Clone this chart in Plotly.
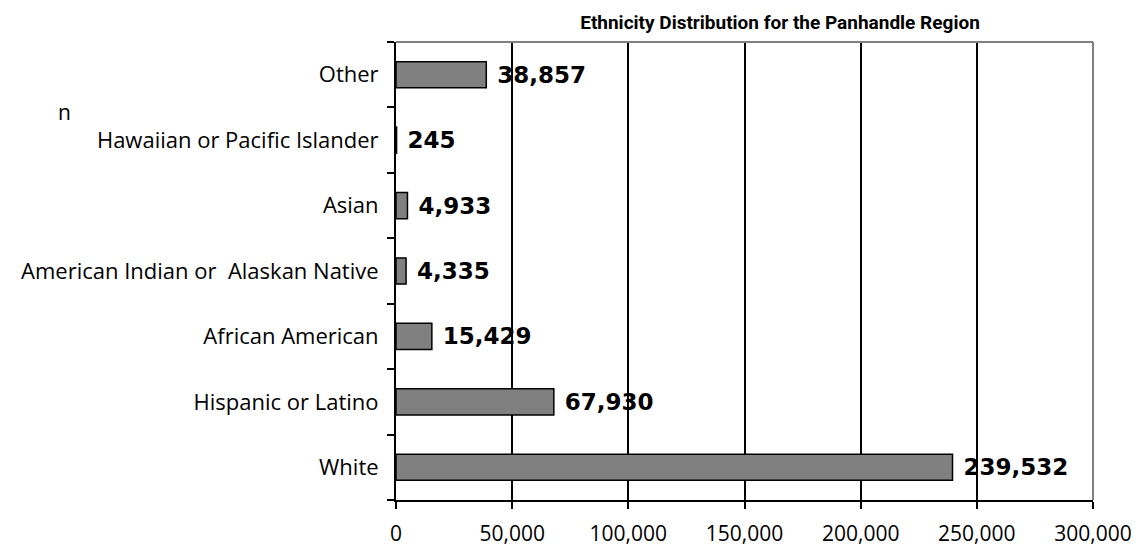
import plotly.graph_objects as go

categories = ["White", "Hispanic or Latino", "African American",
              "American Indian or  Alaskan Native", "Asian",
              "Hawaiian or Pacific Islander", "Other"]
counts = [239532, 67930, 15429, 4335, 4933, 245, 38857]
x_ticks = [0, 50000, 100000, 150000, 200000, 250000, 300000]
x_tick_labels = ["0", "50,000", "100,000", "150,000", "200,000", "250,000", "300,000"]

# page body has an 8px margin, so figure is 8px smaller and offsets shifted
W, H = 1140, 543

fig = go.Figure(go.Bar(
    x=counts, y=categories, orientation="h",
    width=0.4,
    marker=dict(color="#808080", line=dict(color="black", width=1.5)),
    text=["\u00a0" + f"{v:,}" for v in counts],
    textposition="outside",
    constraintext="none",
    textfont=dict(family="DejaVu Sans", size=23, color="black", weight="bold"),
    cliponaxis=False,
))

fig.update_layout(
    width=W, height=H,
    paper_bgcolor="white", plot_bgcolor="white",
    margin=dict(l=388, r=55, t=34, b=51),
    showlegend=False,
    title=dict(text="<b>Ethnicity Distribution for the Panhandle Region</b>",
               x=772 / W, xanchor="center", y=1 - 14 / H, yanchor="middle",
               font=dict(family="Roboto", size=19, color="black")),
    font=dict(family="Open Sans", color="black"),
)

fig.update_xaxes(
    range=[0, 300000], tickvals=x_ticks, ticktext=x_tick_labels,
    showgrid=True, gridcolor="black", gridwidth=2,
    showline=True, linecolor="black", linewidth=2,
    ticks="outside", ticklen=7, tickwidth=2, tickcolor="black",
    tickfont=dict(family="Open Sans", size=21, color="black"),
    zeroline=False, ticklabelstandoff=7, automargin=False,
)
fig.update_yaxes(
    categoryorder="array", categoryarray=categories,
    showgrid=False, showline=True, linecolor="black", linewidth=2,
    ticks="outside", ticklen=7, tickwidth=2, tickcolor="black",
    tickson="boundaries",
    tickfont=dict(family="Open Sans", size=22, color="black"),
    zeroline=False, ticklabelstandoff=11, automargin=False,
)

# gray border on top and right of the plot area
fig.add_shape(type="line", xref="paper", yref="paper", x0=0, x1=1, y0=1, y1=1,
              line=dict(color="#808080", width=2))
fig.add_shape(type="line", xref="paper", yref="paper", x0=1, x1=1, y0=0, y1=1,
              line=dict(color="#808080", width=2))

# stray text fragment at left
fig.add_annotation(text="n", xref="paper", yref="paper",
                   x=(48 - 388) / 697, y=(492 - 104) / 458, xanchor="left", yanchor="middle",
                   showarrow=False, font=dict(family="Open Sans", size=21, color="black"))

fig.write_html("out.html")
